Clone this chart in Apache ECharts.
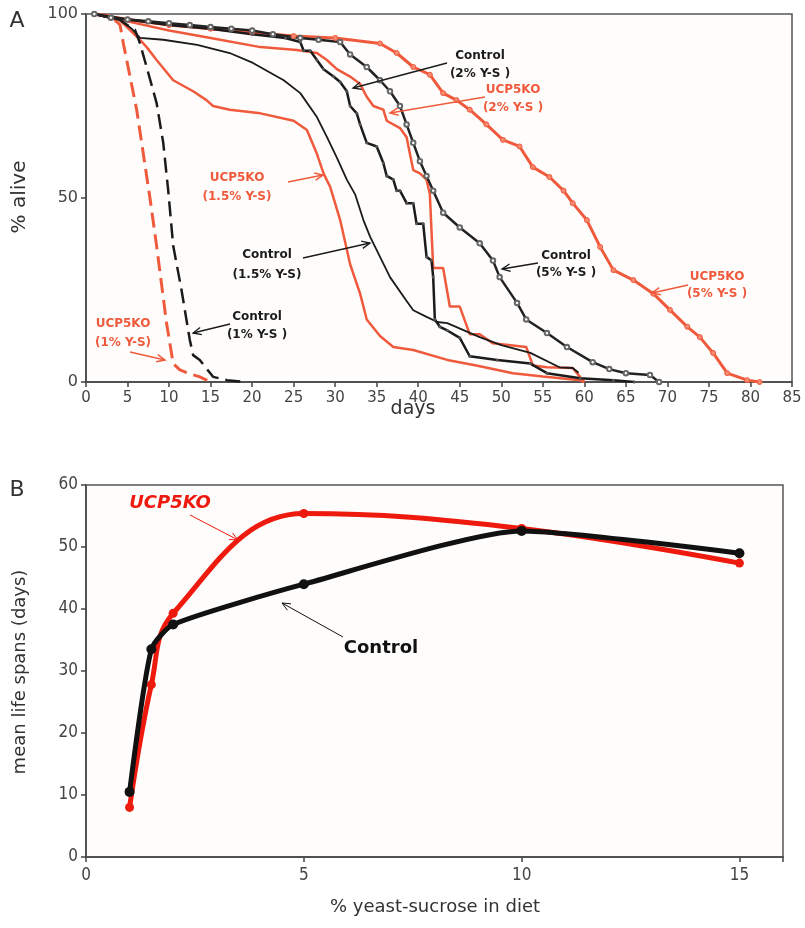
<!DOCTYPE html>
<html>
<head>
<meta charset="utf-8">
<script src="https://cdn.jsdelivr.net/npm/echarts@6/dist/echarts.min.js"></script>
<style>
html,body{margin:0;padding:0;background:#fff;}
#chart{width:805px;height:928px;}
</style>
</head>
<body>
<div id="chart"></div>
<script>
// ---------- Panel A: survival curves [day, % alive] ----------
const ucp1 = [[1,100],[3,99.5],[4.1,97],[4.5,92],[5.3,83],[6.1,74],[6.7,65],[7.3,56],[7.7,50],[8.5,37],[9.7,16],[10.5,5],[11.3,3.3],[12.5,2.2],[13.7,1.4],[15,0]];
const ctl1 = [[1,100],[4,98.5],[5.3,96.5],[5.9,95.7],[6.5,92],[7.3,85.6],[8.5,75.8],[9.3,65],[9.9,52],[10.5,37],[11.5,25],[12.5,11.4],[12.9,7.3],[13.7,6],[15.3,1.4],[17,0.5],[19,0]];
const ucp15 = [[1,100],[4,98.5],[6.5,93],[7.3,91],[8.5,87.5],[10.5,82],[12.9,79],[14.5,76.6],[15.3,75],[17.3,74],[21,73],[25,71],[26.6,68.5],[27.8,62],[28.6,56.7],[29.4,53],[30.6,44],[31.8,32],[33,24],[33.8,17],[35.4,12.5],[37,9.5],[39.4,8.7],[43.5,6],[47,4.5],[51.4,2.4],[55,1.5],[59.5,0.5],[60,0]];
const ctl15 = [[1,100],[4,98.5],[5.5,96],[6.5,93.5],[9.3,93],[13.4,91.6],[17.3,89.4],[20.1,86.7],[23.8,82],[25.8,78.5],[27.8,72],[29,66.6],[30.2,61],[31.4,55],[32.4,51],[33.4,44],[34.2,39.5],[35.4,34],[36.6,28.5],[38.6,22],[39.4,19.5],[41,17.7],[42.3,16.3],[43.5,16],[47.4,12.2],[50,10],[53.5,7.9],[57,4],[58.6,3.8],[59.3,2.5]];
const ctl2 = [[1,100],[5,98.5],[10,97],[15,96],[20,94.5],[24,93.5],[25.8,92.4],[26.2,90],[27,90],[27.8,87.5],[28.6,85],[29.8,83],[30.6,81.5],[31.4,79],[31.8,75],[32.6,73],[33,70],[33.8,65],[35,64],[35.8,59.5],[36.2,56],[37,55],[37.4,52],[37.8,52],[38.6,48.6],[39.4,48.6],[39.8,43],[40.6,43],[41,34],[41.6,33],[41.8,28.5],[42,17],[42.6,15],[43.5,14],[45,12],[46.2,7],[49.5,6],[53.5,5],[55.5,2.4],[59.5,1],[63.5,0.5],[66,0]];
const ucp2 = [[1,100],[5,98],[10,95.5],[15,93.5],[21,91],[25.4,90.2],[27.8,89.4],[29,87.5],[30.2,85],[31.8,83],[33,81],[33.8,77.5],[34.6,75],[35.8,74],[36.2,71],[37.8,69],[38.6,66.5],[39,62],[39.4,57.6],[40.2,56.7],[41,55],[41.4,51],[41.8,31],[43,31],[43.8,20.5],[45,20.5],[46.2,13],[47.4,13],[49,10.5],[53,9.5],[53.8,4.5],[55.5,4],[58.6,3.8],[59.8,0.5],[60,0]];
const ctl5 = [[1,100],[3,99],[5,98.5],[7.5,98],[10,97.5],[12.5,97],[15,96.5],[17.5,96],[20,95.5],[22.5,94.5],[25.8,93.5],[28,93],[30.6,92.4],[31.8,89],[33.8,85.6],[35.4,82],[36.6,79],[37.8,75],[38.6,70],[39.4,65],[40.2,60],[41,56],[41.8,52],[43,46],[45,42],[47.4,37.7],[49,33],[49.8,28.5],[51.9,21.5],[53,17],[55.5,13.3],[57.9,9.5],[61,5.4],[63,3.5],[65,2.4],[67.9,1.9],[69,0]];
const ucp5 = [[1,100],[5,98.5],[10,97],[15,96],[20,95],[25,94],[30,93.5],[35.4,92],[37.4,89.4],[39.4,85.6],[41.4,83.5],[43,78.5],[44.6,76.6],[46.2,74],[48.2,70],[50.2,65.8],[52.2,64],[53.8,58.4],[55.8,55.7],[57.5,52],[58.6,48.6],[60.3,44],[61.9,36.7],[63.5,30.4],[65.9,27.7],[68.3,24],[70.3,19.6],[72.4,15],[73.9,12.2],[75.5,7.9],[77.2,2.4],[79.6,0.5],[81.1,0]];

// ---------- Panel B: mean life spans ----------
const dietPct = [1, 1.5, 2, 5, 10, 15];
const ctlMean = [10.5, 33.5, 37.5, 44, 52.6, 49];
const ucpMean = [8, 27.8, 39.3, 55.4, 53, 47.4];

// ---------- Tick settings ----------
const daysTicks = {min: 0, max: 85, interval: 5};
const aliveTicks = {min: 0, max: 100, interval: 50};
const dietTicks = {min: 0, max: 16, interval: 5};
const meanTicks = {min: 0, max: 60, interval: 10};

const REDA = '#f05a3c', BLK = '#1b1b1b', REDB = '#ee1a0e', BLKB = '#111';
const FONT = '"DejaVu Sans", sans-serif';
const NARROW = '"Liberation Sans Narrow","DejaVu Sans Condensed","Liberation Sans",sans-serif';

function pairs(xs, ys){ return xs.map((x,i)=>[x, ys[i]]); }

function arrow(x1,y1,x2,y2,color,w){
  const ang = Math.atan2(y2-y1, x2-x1);
  const L = 9, a = 0.42;
  const p1 = [x2 - L*Math.cos(ang - a), y2 - L*Math.sin(ang - a)];
  const p2 = [x2 - L*Math.cos(ang + a), y2 - L*Math.sin(ang + a)];
  return [
    {type:'polyline', shape:{points:[[x1,y1],[x2,y2]]}, style:{stroke:color, lineWidth:w, fill:null}, z:100},
    {type:'polyline', shape:{points:[p1,[x2,y2],p2]}, style:{stroke:color, lineWidth:w, fill:null}, z:100}
  ];
}
function label(x,y,text,color,size,weight,style){
  return {type:'text', x:x, y:y, z:100, style:{text:text, fill:color, font:(style||'normal')+' '+(weight||'bold')+' '+size+'px '+FONT, textAlign:'center', textVerticalAlign:'middle'}};
}
function label2(x,y1,y2,t1,t2,color){
  return [label(x,y1,t1,color,12), label(x,y2,t2,color,12)];
}

const axisCommon = {
  axisLine:{show:true, onZero:false, lineStyle:{color:'#444', width:1.5}},
  axisTick:{show:true, inside:false, length:5, lineStyle:{color:'#444', width:1.5}},
  splitLine:{show:false},
};

const chart = echarts.init(document.getElementById('chart'), null, {renderer:'canvas'});

const graphics = [].concat(
  [label(17,21,'A','#333',22,'normal'), label(17,490,'B','#333',22,'normal')],
  [ {type:'text', x:20, y:197, rotation:Math.PI/2, z:100, style:{text:'% alive', fill:'#333', font:'normal 20px '+FONT, textAlign:'center', textVerticalAlign:'middle'}},
    label(413,409,'days','#333',19,'normal'),
    {type:'text', x:20, y:672, rotation:Math.PI/2, z:100, style:{text:'mean life spans (days)', fill:'#333', font:'normal 18px '+FONT, textAlign:'center', textVerticalAlign:'middle'}},
    label(435,907,'% yeast-sucrose in diet','#333',18,'normal') ],
  label2(480,56,74,'Control','(2% Y-S )',BLK),
  label2(513,90,108,'UCP5KO','(2% Y-S )',REDA),
  label2(237,178,197,'UCP5KO','(1.5% Y-S)',REDA),
  label2(267,255,275,'Control','(1.5% Y-S)',BLK),
  label2(257,317,335,'Control','(1% Y-S )',BLK),
  label2(123,324,343,'UCP5KO','(1% Y-S)',REDA),
  label2(566,256,273,'Control','(5% Y-S )',BLK),
  label2(717,277,294,'UCP5KO','(5% Y-S )',REDA),
  arrow(447,63,353,88,BLK,1.3),
  arrow(485,97,390,113,REDA,1.5),
  arrow(288,182,323,175,REDA,1.5),
  arrow(303,258,370,243,BLK,1.3),
  arrow(230,324,193,333,BLK,1.3),
  arrow(130,352,165,360,REDA,1.5),
  arrow(538,263,502,269,BLK,1.3),
  arrow(688,285,652,293,REDA,1.5),
  [label(170,503,'UCP5KO',REDB,18,'bold','italic'), label(381,648,'Control',BLKB,18,'bold')],
  arrow(190,515,238,540,REDB,1),
  arrow(343,637,282,603,BLKB,1)
);

function aSeries(name, data, color, width, dash, sym){
  const s = {name:name, type:'line', xAxisIndex:0, yAxisIndex:0, data:data, smooth:false,
    lineStyle:{color:color, width:width, type:dash||'solid'}, itemStyle:{color:color},
    showSymbol:false, symbol:'none', z:5};
  if (sym){ Object.assign(s, sym); }
  return s;
}

chart.setOption({
  animation:false,
  backgroundColor:'#fff',
  textStyle:{fontFamily:FONT},
  grid:[
    {left:86, top:14, width:706, height:368, show:true, borderColor:'#555', borderWidth:1.5, backgroundColor:'#fefdfc'},
    {left:86, top:485, width:697, height:372, show:true, borderColor:'#555', borderWidth:1.5, backgroundColor:'#fefdfc'}
  ],
  xAxis:[
    Object.assign({type:'value', gridIndex:0}, daysTicks, axisCommon, {axisLabel:{color:'#444', fontSize:15, margin:9, fontFamily:FONT}}),
    Object.assign({type:'value', gridIndex:1}, dietTicks, axisCommon, {axisLabel:{color:'#444', fontSize:17, margin:10, fontFamily:NARROW, formatter:v=> (v%5===0? String(v):'')}})
  ],
  yAxis:[
    Object.assign({type:'value', gridIndex:0}, aliveTicks, axisCommon, {axisLabel:{color:'#444', fontSize:16, margin:8, fontFamily:FONT}}),
    Object.assign({type:'value', gridIndex:1}, meanTicks, axisCommon, {axisLabel:{color:'#444', fontSize:17, margin:8, fontFamily:NARROW}})
  ],
  series:[
    aSeries('UCP5KO 5%', ucp5, REDA, 3, 'solid', {showSymbol:true, symbol:'circle', symbolSize:5, itemStyle:{color:'#f58a70', borderColor:REDA, borderWidth:1}}),
    aSeries('UCP5KO 2%', ucp2, REDA, 2.5),
    aSeries('UCP5KO 1.5%', ucp15, REDA, 2.5),
    aSeries('UCP5KO 1%', ucp1, REDA, 3, [15,7]),
    aSeries('Control 1%', ctl1, BLK, 2.5, [15,7]),
    aSeries('Control 1.5%', ctl15, BLK, 1.8),
    aSeries('Control 2%', ctl2, BLK, 2.5, 'solid', {showSymbol:true, symbol:'circle', symbolSize:3, itemStyle:{color:'#555'}}),
    aSeries('Control 5%', ctl5, '#222', 2.5, 'solid', {showSymbol:true, symbol:'emptyCircle', symbolSize:4.5, itemStyle:{color:'#666', borderWidth:1}}),
    {name:'UCP5KO mean', type:'line', xAxisIndex:1, yAxisIndex:1, data:pairs(dietPct, ucpMean), smooth:0.4,
      lineStyle:{color:REDB, width:5}, itemStyle:{color:REDB}, symbol:'circle', symbolSize:9, showSymbol:true, z:4},
    {name:'Control mean', type:'line', xAxisIndex:1, yAxisIndex:1, data:pairs(dietPct, ctlMean), smooth:0.2,
      lineStyle:{color:BLKB, width:5}, itemStyle:{color:BLKB}, symbol:'circle', symbolSize:10, showSymbol:true, z:5}
  ],
  graphic: graphics
});
</script>
</body>
</html>
